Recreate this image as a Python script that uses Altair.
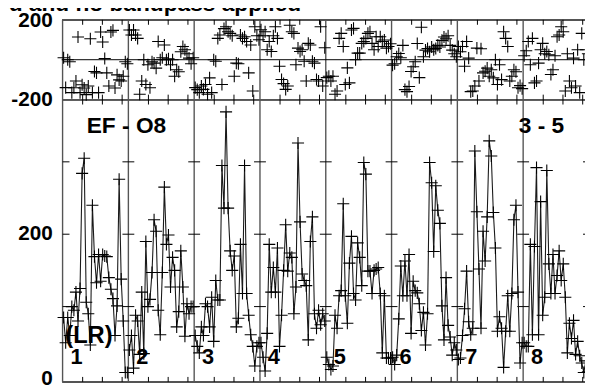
import altair as alt
import pandas as pd

# ---------------- data ----------------
IF_NUMBERS = [1, 2, 3, 4, 5, 6, 7, 8]
N_CHAN = 32

AMP_IF1 = [85, 50, 85, 60, 100, 95, 120, 80, 125, 284, 305, 106, 90, 47, 240, 169,
           133, 172, 135, 172, 170, 169, 140, 124, 111, 60, 101, 276, 138, 80, 9, 9]
AMP_IF2 = [40, 60, 15, 88, 80, 34, 120, 35, 190, 100, 110, 147, 220, 204, 95, 61,
           147, 265, 186, 199, 127, 168, 150, 72, 93, 177, 127, 59, 104, 90, 100, 100]
AMP_IF3 = [60, 45, 36, 72, 60, 104, 100, 72, 113, 52, 136, 109, 109, 295, 236, 369,
           236, 177, 150, 170, 72, 84, 186, 118, 295, 118, 88, 61, 45, 18, 45, 50]
AMP_IF4 = [50, 30, 11, 63, 186, 120, 154, 120, 181, 45, 88, 150, 213, 149, 174, 168,
           90, 127, 326, 217, 145, 136, 129, 54, 190, 224, 90, 70, 95, 75, 90, 80]
AMP_IF5 = [30, 20, 13, 18, 88, 70, 115, 122, 242, 115, 77, 160, 197, 118, 109, 188,
           168, 129, 299, 283, 149, 149, 118, 150, 152, 154, 118, 36, 115, 29, 29, 29]
AMP_IF6 = [30, 20, 33, 83, 156, 115, 163, 115, 172, 63, 135, 122, 119, 104, 67, 92,
           47, 90, 299, 271, 176, 267, 233, 215, 101, 54, 140, 74, 58, 33, 50, 40]
AMP_IF7 = [27, 29, 60, 97, 149, 79, 61, 70, 315, 231, 152, 70, 204, 163, 224, 329,
           308, 230, 181, 66, 86, 70, 16, 66, 115, 66, 118, 220, 240, 120, 22, 50]
AMP_IF8 = [50, 45, 45, 186, 61, 183, 292, 61, 245, 88, 113, 288, 159, 118, 172, 118,
           143, 177, 136, 159, 113, 36, 77, 56, 81, 34, 52, 32, 22, 9, 25, 10]

PHASE_IF1 = [10, -140, 0, -10, -165, -141, -107, 114, -165, -126, -142, -175, -132, 105, -165, -59,
             -66, -165, 139, 89, 6, -66, -132, 139, 147, -142, -76, -101, -107, -83, -10, -20]
PHASE_IF2 = [149, 124, 149, 124, 107, -173, -107, 0, -124, -25, -141, -10, -17, -42, 91, 0,
             10, 74, 0, 5, -25, 0, -83, -50, -60, 40, 66, 50, 30, 8, -20, 10]
PHASE_IF3 = [-140, -150, -165, -132, -149, -124, -173, -91, -165, 0, -8, 107, 124, -124, 156, 165,
             140, 132, 120, -83, -17, -20, 124, 107, 115, 91, -66, 74, -157, 165, 120, 100]
PHASE_IF4 = [150, 120, 140, 50, 91, 41, 120, 165, 107, -33, -99, -120, -149, -132, 173, 140,
             132, -25, 58, 41, 50, -8, -107, 82, 74, -8, -17, -99, -107, 165, -132, 60]
PHASE_IF5 = [-90, -83, -107, -83, -173, -157, 107, 132, 66, -124, -41, -116, 149, 157, 0, 33,
             33, 82, 91, 107, 132, 140, 82, 50, 115, 66, 115, 91, 99, 58, 66, 80]
PHASE_IF6 = [-27, -20, 15, 31, 10, 72, -150, -160, -134, -59, -35, -10, 81, -90, 163, 15,
             48, 56, 40, 64, 50, 56, 72, 64, 97, 114, 105, 120, 72, 48, 30, 15]
PHASE_IF7 = [66, 40, 66, -33, 91, 8, -160, -157, -132, 58, -107, 55, -66, -58, -42, -83,
             -50, -91, 0, -124, -25, -100, 140, 107, 66, -107, -83, -50, -60, -141, -130, -145]
PHASE_IF8 = [20, 45, 91, -25, 107, -116, -107, -17, 50, 82, 30, 41, 25, -74, -50, 20,
             115, 124, 165, 140, -157, 30, -107, -141, 8, -132, 50, -165, 132, 0, 50, 30]

AMP_TICKS = [100, 200, 300]
CHAN_TICK_FRACTIONS = [0.305, 0.605, 0.905]
PHASE_AXIS_LABELS = [200, -200]
AMP_AXIS_LABELS = [200, 0]
TITLE_TEXT = "Calibrated and no bandpass applied"
BASELINE_TEXT = "EF - O8"
SOURCE_TEXT = "3 - 5"
POL_TEXT = "(LR)"

AMPS = [AMP_IF1, AMP_IF2, AMP_IF3, AMP_IF4, AMP_IF5, AMP_IF6, AMP_IF7, AMP_IF8]
PHASES = [PHASE_IF1, PHASE_IF2, PHASE_IF3, PHASE_IF4, PHASE_IF5, PHASE_IF6, PHASE_IF7, PHASE_IF8]

rows = []
for k, (amp, ph) in enumerate(zip(AMPS, PHASES)):
    for c in range(N_CHAN):
        rows.append({"ifno": IF_NUMBERS[k], "x": k + (c + 0.5) / N_CHAN,
                     "amp": amp[c], "phase": ph[c]})
df = pd.DataFrame(rows)

# ---------------- layout ----------------
W = 533.3
H = 366.8
PH_H = 80.8
FONT = "Liberation Sans"
FRAME = "#555555"
INK = "#000000"

xs = alt.Scale(domain=[0, 8], nice=False, zero=False)
ph_scale = alt.Scale(domain=[-200, 200], range=[PH_H, 0], nice=False, zero=False)
amp_scale = alt.Scale(domain=[-4, 386], range=[H, PH_H], nice=False, zero=False)

X = lambda f: alt.X(f, type="quantitative", scale=xs, axis=None)
Y_PH = lambda f: alt.Y(f, type="quantitative", scale=ph_scale, axis=None)
Y_AMP = lambda f: alt.Y(f, type="quantitative", scale=amp_scale, axis=None)

layers = []

# section dividers and outer verticals
div_df = pd.DataFrame({"d": list(range(0, 9))})
layers.append(alt.Chart(div_df).mark_rule(color=FRAME, strokeWidth=1.4).encode(
    x=X("d"), y=alt.value(0), y2=alt.value(H)))

# horizontal frame lines
for yy in [0, PH_H, H]:
    layers.append(alt.Chart(div_df).mark_rule(color=FRAME, strokeWidth=1.4).encode(
        x=alt.value(0), x2=alt.value(W), y=alt.value(yy)))

# phase zero line
zero_df = pd.DataFrame({"z": [0]})
layers.append(alt.Chart(zero_df).mark_rule(color=INK, strokeWidth=1).encode(
    x=alt.value(0), x2=alt.value(W), y=Y_PH("z")))

# channel ticks on horizontal edges
tick_df = pd.DataFrame({"t": [k + f for k in range(8) for f in CHAN_TICK_FRACTIONS]})
for y1, y2 in [(0, 5), (PH_H - 5, PH_H + 5), (H - 5, H)]:
    layers.append(alt.Chart(tick_df).mark_rule(color=INK, strokeWidth=1).encode(
        x=X("t"), y=alt.value(y1), y2=alt.value(y2)))

# amplitude ticks on section borders
vt_df = pd.DataFrame([{"d": d, "v": v} for d in range(1, 9) for v in AMP_TICKS])
layers.append(alt.Chart(vt_df).mark_rule(color=INK, strokeWidth=1, xOffset=-6, x2Offset=6).encode(
    x=X("d"), x2="d", y=Y_AMP("v")))
vt0_df = pd.DataFrame([{"d": 0, "v": v} for v in AMP_TICKS])
layers.append(alt.Chart(vt0_df).mark_rule(color=INK, strokeWidth=1, xOffset=0, x2Offset=7).encode(
    x=X("d"), x2="d", y=Y_AMP("v")))

# amplitude line + crosses
CROSS = "M-1,0L1,0M0,-1L0,1"
layers.append(alt.Chart(df).mark_line(color="#1a1a1a", strokeWidth=1.1).encode(
    x=X("x"), y=Y_AMP("amp"), detail="ifno:N"))
layers.append(alt.Chart(df).mark_point(shape=CROSS, size=150, filled=False,
                                        stroke=INK, strokeWidth=1.1, opacity=1).encode(
    x=X("x"), y=Y_AMP("amp")))

# phase crosses
layers.append(alt.Chart(df).mark_point(shape=CROSS, size=150, filled=False,
                                        stroke=INK, strokeWidth=1.1, opacity=1).encode(
    x=X("x"), y=Y_PH("phase")))

# axis labels
ph_lab = pd.DataFrame({"v": PHASE_AXIS_LABELS, "t": [str(v) for v in PHASE_AXIS_LABELS]})
layers.append(alt.Chart(ph_lab).mark_text(font=FONT, fontWeight="bold", fontSize=21,
                                          align="right", baseline="middle", dy=1, color="black").encode(
    x=alt.value(-10), y=Y_PH("v"), text="t:N"))
amp_lab = pd.DataFrame({"v": AMP_AXIS_LABELS, "t": [str(v) for v in AMP_AXIS_LABELS]})
layers.append(alt.Chart(amp_lab).mark_text(font=FONT, fontWeight="bold", fontSize=21,
                                           align="right", baseline="middle", color="black").encode(
    x=alt.value(-10), y=Y_AMP("v"), text="t:N"))

# IF numbers
if_lab = pd.DataFrame({"d": [n - 1 for n in IF_NUMBERS], "t": [str(n) for n in IF_NUMBERS]})
layers.append(alt.Chart(if_lab).mark_text(font=FONT, fontWeight="bold", fontSize=22,
                                          align="left", baseline="alphabetic", dx=8, color="black").encode(
    x=X("d"), y=alt.value(348.5), text="t:N"))

# annotation texts
def label(txt, x, y, size, align):
    d = pd.DataFrame({"t": [txt]})
    return alt.Chart(d).mark_text(font=FONT, fontWeight="bold", fontSize=size, align=align,
                                  baseline="alphabetic", color="black").encode(
        x=alt.value(x), y=alt.value(y), text="t:N")

layers.append(label(BASELINE_TEXT, 64.7, 114.5, 23, "center"))
layers.append(label(SOURCE_TEXT, 485.2, 114.5, 23, "center"))
layers.append(label(POL_TEXT, 2.7, 327.0, 24, "left"))
layers.append(label(TITLE_TEXT, 241.7, -9, 23, "right"))

chart = alt.layer(*layers).resolve_scale(y="independent").properties(
    width=W, height=H,
    autosize=alt.AutoSizeParams(type="none"),
    padding={"left": 55.3, "top": 9.5, "right": -4, "bottom": 2},
    background="white",
).configure_view(stroke=None)

chart.save("out.html", embed_options={"renderer": "svg", "actions": False})
